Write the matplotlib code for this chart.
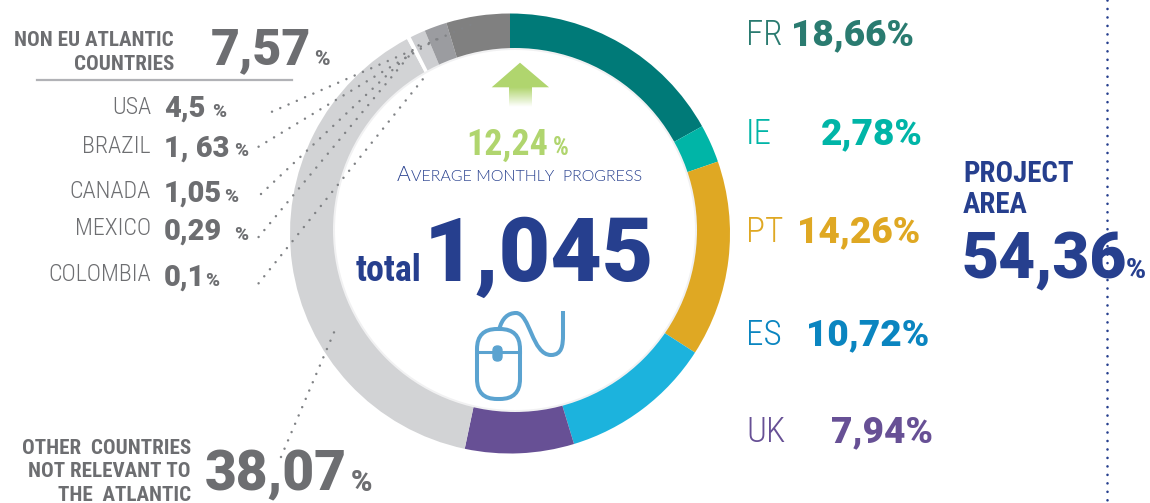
import matplotlib
matplotlib.use("Agg")
import matplotlib.pyplot as plt
from matplotlib.colors import LinearSegmentedColormap
from matplotlib.patches import Circle, Polygon, FancyBboxPatch, PathPatch
from matplotlib.path import Path
import numpy as np

W, H = 1150, 503

# ring arcs as drawn in the picture (they differ a bit from the printed numbers), clockwise from the top
slice_names = ["FR", "IE", "PT", "ES", "UK", "Other", "Gap", "Canada", "Brazil", "USA"]
slice_values = [16.9, 2.8, 14.4, 11.2, 8.0, 38.95, 0.3, 1.12, 1.66, 4.67]
slice_colors = ["#007a78", "#00b5a7", "#dfa823", "#1cb3dd", "#675095", "#d2d3d5",
                "#ffffff", "#cdced1", "#9b9ca0", "#808080"]

area_names = ["FR", "IE", "PT", "ES", "UK"]
area_values = ["18,66%", "2,78%", "14,26%", "10,72%", "7,94%"]
area_colors = ["#2a7b70", "#00b5a7", "#dfa823", "#0a85c0", "#675095"]
area_right = [914, 923, 920, 929, 933]
area_base = [45, 144, 242, 345, 442]

atl_names = ["USA", "BRAZIL", "CANADA", "MEXICO", "COLOMBIA"]
atl_values = ["4,5", "1, 63", "1,05", "0,29", "0,1"]
atl_name_base = [113.5, 152.5, 198.5, 235, 281]
atl_value_base = [116.5, 156.5, 201.5, 240, 285.5]
atl_pct_x = [212, 234, 224, 234, 205]

# dotted leaders: label end, ring end
leader_a = [(272, 111.7), (258.6, 146.7), (261, 194), (258.6, 237), (258.6, 283.3), (281, 457)]
leader_b = [(477.6, 21.7), (438, 38.3), (419, 45), (414, 50), (427.6, 73.3), (335, 330)]

BLUE = "#263f8e"
GREY = "#6d6e71"
GREEN = "#b0d56e"
MC = "#5ba3d0"
HEAVY = ["Roboto", "DejaVu Sans"]
COND = ["Roboto Condensed", "DejaVu Sans"]


def pt(px):
    return px * 0.72


def heavy(ax, x, y, s, c, px, ha="left", z=4):
    ax.text(x, y, s, color=c, family=HEAVY, fontweight=900, fontsize=pt(px), ha=ha, va="baseline", zorder=z)


def cond(ax, x, y, s, c, px, ha="left", weight=700, z=4):
    ax.text(x, y, s, color=c, family=COND, fontweight=weight, fontsize=pt(px), ha=ha, va="baseline", zorder=z)


fig = plt.figure(figsize=(W / 100, H / 100), dpi=100, facecolor="white")

# pie axes, square box placed in pixels
cx, cy, R = 510, 233.5, 220
ax_pie = fig.add_axes([(cx - R) / W, 1 - (cy + R) / H, 2 * R / W, 2 * R / H])
ax_pie.pie(slice_values, colors=slice_colors, startangle=90, counterclock=False,
           radius=1, wedgeprops={"linewidth": 0})
ax_pie.set_xlim(-1, 1)
ax_pie.set_ylim(-1, 1)

# overlay in image pixels
ax = fig.add_axes([0, 0, 1, 1])
ax.axis("off")
ax.patch.set_alpha(0)

ax.add_patch(Circle((515, 230), 182, fc="#f1f1f2", ec="none", zorder=1))
ax.add_patch(Circle((515, 230), 180, fc="white", ec="none", zorder=2))

for a, b in zip(leader_a, leader_b):
    ax.plot([a[0], b[0]], [a[1], b[1]], color="#808285", lw=1.8, zorder=3,
            linestyle=(0, (0.01, 3.6)), dash_capstyle="round")

# right hand values
for n, v, c, rx, y in zip(area_names, area_values, area_colors, area_right, area_base):
    cond(ax, 746, y, n, c, 35, weight=300)
    heavy(ax, rx, y, v, c, 37, ha="right")

cond(ax, 963, 182, "PROJECT", BLUE, 29)
cond(ax, 963, 213, "AREA", BLUE, 29)
ax.plot([1106.7, 1106.7], [0, H], color=BLUE, lw=1.9, linestyle=(0, (0.01, 3.2)),
        dash_capstyle="round", zorder=3)
heavy(ax, 961, 278, "54,36", BLUE, 64)
heavy(ax, 1126, 278, "%", BLUE, 27)

# non EU block
cond(ax, 174, 45.5, "NON EU ATLANTIC", GREY, 21, ha="right")
cond(ax, 174, 69.5, "COUNTRIES", GREY, 21, ha="right")
heavy(ax, 211, 64.5, "7,57", GREY, 50)
heavy(ax, 314, 64.5, "%", GREY, 21)
ax.plot([37, 292], [80, 80], color="#b1b2b6", lw=1.6)

for n, v, yn, yv, px in zip(atl_names, atl_values, atl_name_base, atl_value_base, atl_pct_x):
    cond(ax, 151, yn, n, GREY, 24, ha="right", weight=300)
    heavy(ax, 164, yv, v, GREY, 29)
    heavy(ax, px, yv, "%", GREY, 19)

# other countries
for s, y in zip(["OTHER  COUNTRIES", "NOT RELEVANT TO", "THE  ATLANTIC"], [453.7, 477, 501]):
    cond(ax, 191, y, s, GREY, 21, ha="right")
heavy(ax, 205, 490.7, "38,07", GREY, 55)
heavy(ax, 351, 490.7, "%", GREY, 29)

# middle text
cond(ax, 466, 155, "12,24", GREEN, 36)
cond(ax, 553, 155, "%", GREEN, 25)
ax.text(397, 181, "A", color=BLUE, family=["Lato"], fontweight=300, fontsize=pt(21), va="baseline", zorder=4)
ax.text(411, 181, "VERAGE MONTHLY  PROGRESS", color=BLUE, family=["Lato"], fontweight=300, fontsize=pt(16), va="baseline", zorder=4)
cond(ax, 356, 281, "total", BLUE, 36)
heavy(ax, 424, 281, "1,045", BLUE, 89)

# arrow, fading at the foot
ax.add_patch(Polygon([(491.7, 87.3), (520, 62.7), (549, 87.3)], fc=GREEN, ec="none", zorder=4))
fade = np.linspace(0, 1, 40).reshape(-1, 1)
cmap = LinearSegmentedColormap.from_list("f", [GREEN, "#ffffff"])
ax.imshow(fade, extent=(509, 532, 107, 87), cmap=cmap, aspect="auto", zorder=4)
ax.set_xlim(0, W)
ax.set_ylim(H, 0)

# mouse icon
ax.add_patch(FancyBboxPatch((477, 329), 43, 70, boxstyle="round,pad=0,rounding_size=20", fc="none", ec=MC, lw=2.9, zorder=5))
ax.plot([477, 520], [351.7, 351.7], color=MC, lw=2.2, zorder=5)
ax.add_patch(FancyBboxPatch((493, 346), 9, 15, boxstyle="round,pad=0,rounding_size=4.5", fc=MC, ec=MC, lw=1, zorder=6))
verts = [(499, 330), (502, 318), (508, 313), (516, 313), (530, 313), (532, 355), (551, 355), (562, 355), (563, 345), (563, 335), (563, 311)]
codes = [Path.MOVETO] + [Path.CURVE4] * 9 + [Path.LINETO]
ax.add_patch(PathPatch(Path(verts, codes), fc="none", ec=MC, lw=2.9, zorder=5))

fig.savefig("out.png", dpi=100, facecolor="white")
